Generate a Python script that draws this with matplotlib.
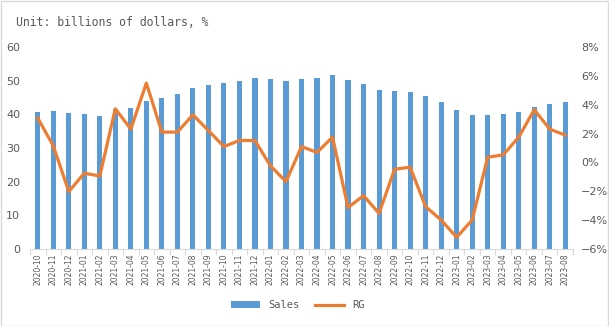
import matplotlib.pyplot as plt
from matplotlib.patches import Rectangle
from matplotlib.ticker import FuncFormatter

months = ["2020-10", "2020-11", "2020-12",
          "2021-01", "2021-02", "2021-03", "2021-04", "2021-05", "2021-06",
          "2021-07", "2021-08", "2021-09", "2021-10", "2021-11", "2021-12",
          "2022-01", "2022-02", "2022-03", "2022-04", "2022-05", "2022-06",
          "2022-07", "2022-08", "2022-09", "2022-10", "2022-11", "2022-12",
          "2023-01", "2023-02", "2023-03", "2023-04", "2023-05", "2023-06",
          "2023-07", "2023-08"]

sales = [40.6, 40.9, 40.3, 40.0, 39.4, 41.5, 41.8, 44.0, 45.0,
         45.9, 47.7, 48.6, 49.2, 49.8, 50.7, 50.4, 49.8, 50.4,
         50.7, 51.6, 50.1, 48.9, 47.1, 46.8, 46.5, 45.3, 43.6,
         41.2, 39.7, 39.7, 40.0, 40.6, 42.1, 43.0, 43.8]

rg = [3.07, 1.15, -2.02, -0.75, -0.94, 3.72, 2.31, 5.5, 2.10,
      2.10, 3.30, 2.21, 1.10, 1.52, 1.52, -0.24, -1.33, 1.10,
      0.69, 1.75, -3.13, -2.30, -3.53, -0.47, -0.33, -3.06, -3.99,
      -5.19, -3.99, 0.36, 0.52, 1.75, 3.65, 2.31, 1.89]

textColor = "#595959"
barColor = "#5B9BD5"
lineColor = "#ED7D31"

fig = plt.figure(figsize=(6.09, 3.26), dpi=100)
ax = fig.add_axes([30 / 609, 1 - 249 / 326, 543 / 609, 202 / 326])
x = list(range(len(months)))

bars = ax.bar(x, sales, width=0.33, color=barColor, zorder=2)
ax.set_ylim(0, 60)
ax.set_yticks(range(0, 61, 10))
ax.set_xlim(-0.5, len(months) - 0.5)
ax.set_xticks(x)
ax.set_xticklabels(months, rotation=90, fontsize=5.5, color=textColor)
ax.set_xticks([i + 0.5 for i in range(-1, len(months))], minor=True)
ax.tick_params(axis="x", which="major", length=0, pad=3)
ax.tick_params(axis="x", which="minor", length=4, color="#D9D9D9", width=0.8)
ax.tick_params(axis="y", length=0, labelsize=8, labelcolor=textColor, pad=7)
for s in ["top", "right", "left"]:
    ax.spines[s].set_visible(False)
ax.spines["bottom"].set_color("#D9D9D9")

ax2 = ax.twinx()
line, = ax2.plot(x, rg, color=lineColor, linewidth=2.3, zorder=3)
ax2.set_ylim(-6, 8)
ax2.set_yticks(range(-6, 9, 2))
ax2.yaxis.set_major_formatter(FuncFormatter(lambda v, p: f"{v:.0f}%".replace("-", "\u2212")))
ax2.tick_params(axis="y", length=0, labelsize=8, labelcolor=textColor, pad=6)
for s in ["top", "right", "left", "bottom"]:
    ax2.spines[s].set_visible(False)

fig.text(16 / 609, 1 - 22 / 326, "Unit: billions of dollars, %", fontsize=8.3,
         family="DejaVu Sans Mono", color=textColor, va="center", ha="left")

fig.legend([bars, line], ["Sales", "RG"], loc="center", bbox_to_anchor=(298 / 609, 1 - 305 / 326),
           ncol=2, frameon=False, handlelength=2.8, handleheight=0.6,
           columnspacing=1.5, labelcolor=textColor, prop={"family": "DejaVu Sans Mono", "size": 7.5})

fig.add_artist(Rectangle((0.5 / 609, 0.5 / 326), 1 - 1.5 / 609, 1 - 1.5 / 326, transform=fig.transFigure,
                         fill=False, edgecolor="#D9D9D9", linewidth=1))

fig.savefig("out.png", dpi=100)
